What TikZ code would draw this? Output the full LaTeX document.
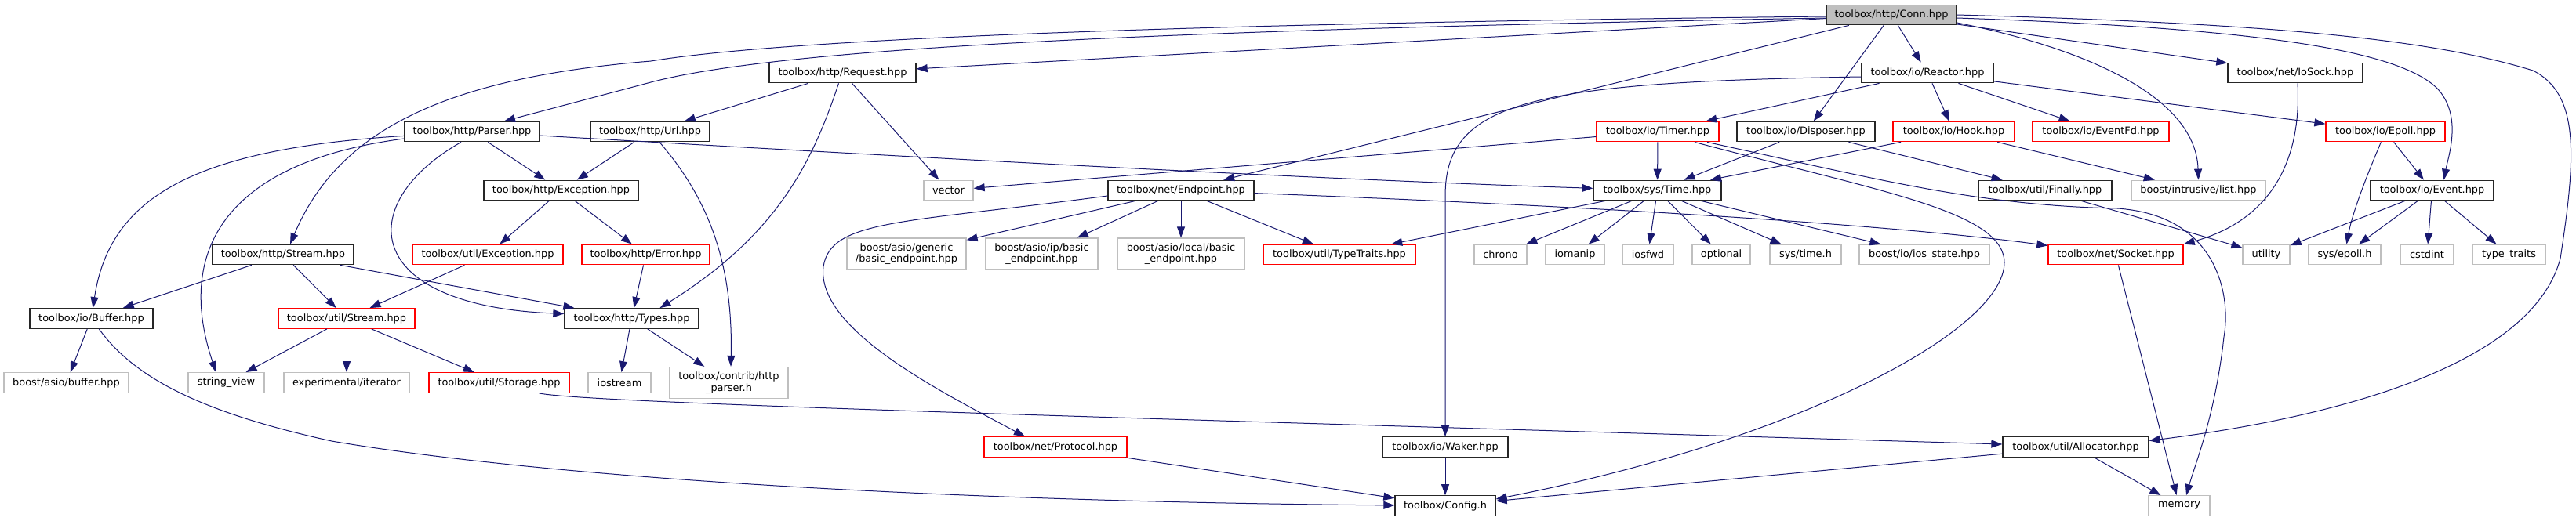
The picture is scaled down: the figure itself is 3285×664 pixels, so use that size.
\documentclass[tikz,border=0pt]{standalone}
\usepackage{fontspec}
\setmainfont{DejaVu Sans}
\usetikzlibrary{arrows.meta}
\definecolor{edgeblue}{HTML}{191970}
\definecolor{extgray}{HTML}{BFBFBF}
\definecolor{rootgray}{HTML}{BFBFBF}
\begin{document}
\begin{tikzpicture}[x=1pt,y=-1pt,
box/.style={rectangle,fill=white,line width=1.3pt,minimum height=25.5pt,inner xsep=1pt,inner ysep=1pt,font=\fontsize{12.9}{14.3}\selectfont},
file/.style={box,draw=black!85},
root/.style={box,draw=black!85,fill=rootgray},
trunc/.style={box,draw=red},
ext/.style={box,draw=extgray},
dep/.style={draw=edgeblue,line width=1pt,-{Triangle[length=14pt,width=10pt]}}]
\useasboundingbox (0,0) rectangle (3285,664);
\node[root,minimum width=166] (conn) at (2412,19) {toolbox/http/Conn.hpp};
\foreach \n/\x/\y/\w/\t in {request/1074.5/93/187/{toolbox/http/Request.hpp},
reactor/2458/93/168/{toolbox/io/Reactor.hpp},
iosock/2927/93/172/{toolbox/net/IoSock.hpp},
parser/602/168/172/{toolbox/http/Parser.hpp},
url/829/168/152/{toolbox/http/Url.hpp},
disposer/2303/168/176/{toolbox/io/Disposer.hpp},
exception/715.5/243/197/{toolbox/http/Exception.hpp},
endpoint/1506/243/186/{toolbox/net/Endpoint.hpp},
time/2113.5/243/163/{toolbox/sys/Time.hpp},
finally/2608/243/170/{toolbox/util/Finally.hpp},
event/3101.5/243/157/{toolbox/io/Event.hpp},
hstream/361/325/180/{toolbox/http/Stream.hpp},
buffer/116.5/406.5/157/{toolbox/io/Buffer.hpp},
types/805.5/406.5/171/{toolbox/http/Types.hpp},
waker/1843/570.5/160/{toolbox/io/Waker.hpp},
allocator/2647/570.5/186/{toolbox/util/Allocator.hpp},
config/1843/645.5/128/{toolbox/Config.h}}
\node[file,minimum width=\w] (\n) at (\x,\y) {\t};
\foreach \n/\x/\y/\w/\t in {timer/2114/168/156/{toolbox/io/Timer.hpp},
hook/2491.5/168/155/{toolbox/io/Hook.hpp},
eventfd/2679/168/174/{toolbox/io/EventFd.hpp},
epoll/3042/168/152/{toolbox/io/Epoll.hpp},
uexception/622/325/192/{toolbox/util/Exception.hpp},
error/823.5/325/163/{toolbox/http/Error.hpp},
typetraits/1708/325/194/{toolbox/util/TypeTraits.hpp},
socket/2698/325/172/{toolbox/net/Socket.hpp},
ustream/442/406.5/174/{toolbox/util/Stream.hpp},
storage/636.5/488.5/179/{toolbox/util/Storage.hpp},
protocol/1346/570.5/182/{toolbox/net/Protocol.hpp}}
\node[trunc,minimum width=\w] (\n) at (\x,\y) {\t};
\foreach \n/\x/\y/\w/\t in {vector/1209.5/243/63/{vector},
intrusive/2803.5/243/171/{boost/intrusive/list.hpp},
chrono/1913.5/325/67/{chrono},
iomanip/2008.5/325/75/{iomanip},
iosfwd/2101.5/325/65/{iosfwd},
optional/2195/325/74/{optional},
systime/2302.5/325/91/{sys/time.h},
iosstate/2454/325/166/{boost/io/ios\_state.hpp},
utility/2890/325/60/{utility},
sysepoll/2990/325/92/{sys/epoll.h},
cstdint/3095/325/68/{cstdint},
typetr/3199.5/325/93/{type\_traits},
asiobuf/84.5/488.5/159/{boost/asio/buffer.hpp},
strview/288.5/488.5/97/{string\_view},
expiter/442/488.5/160/{experimental/iterator},
iostream/790/488.5/80/{iostream},
memory/2779/645.5/78/{memory}}
\node[ext,minimum width=\w] (\n) at (\x,\y) {\t};
\foreach \n/\x/\y/\w/\t in {generic/1156/324/152/{boost/asio/generic\\/basic\_endpoint.hpp},
ip/1328.5/324/143/{boost/asio/ip/basic\\\_endpoint.hpp},
local/1506/324/162/{boost/asio/local/basic\\\_endpoint.hpp},
httpparser/929.5/488.5/151/{toolbox/contrib/http\\\_parser.h}}
\node[ext,align=center,minimum height=40,minimum width=\w] (\n) at (\x,\y) {\t};
\foreach \a/\b in {conn/request,conn/reactor,conn/disposer,conn/iosock,conn/endpoint,
request/url,request/vector,parser/exception,url/exception,
exception/uexception,exception/error,hstream/buffer,hstream/ustream,hstream/types,
uexception/ustream,error/types,ustream/strview,ustream/expiter,ustream/storage,
types/iostream,types/httpparser,buffer/asiobuf,
endpoint/generic,endpoint/ip,endpoint/local,endpoint/typetraits,
reactor/timer,reactor/hook,reactor/eventfd,reactor/epoll,
timer/vector,timer/time,disposer/time,disposer/finally,hook/time,hook/intrusive,
time/typetraits,time/chrono,time/iomanip,time/iosfwd,time/optional,time/systime,time/iosstate,
finally/utility,epoll/event,event/utility,event/sysepoll,event/cstdint,event/typetr,
socket/memory,allocator/memory,allocator/config,waker/config,protocol/config}
\draw[dep] (\a) -- (\b);
\draw[dep] ([yshift=-2]conn.west) .. controls (1500,30) and (1000,50) .. (830,78) .. controls (560,100) and (430,170) .. ([xshift=9]hstream.north);
\draw[dep] ([yshift=-4]conn.west) .. controls (1500,38) and (1000,60) .. (830,105) -- ([xshift=41]parser.north);
\draw[dep] ([yshift=-10]conn.east) .. controls (2650,60) and (2800,120) .. (intrusive.north);
\draw[dep] ([yshift=-4]conn.east) .. controls (2850,35) and (3060,60) .. (3110,115) .. controls (3140,150) and (3122,200) .. ([xshift=15]event.north);
\draw[dep] (conn.east) .. controls (2900,30) and (3100,50) .. (3230,90) .. controls (3290,120) and (3285,200) .. (3265,330) .. controls (3230,460) and (3000,530) .. ([yshift=8]allocator.east);
\draw[dep] ([xshift=-5]request.south) .. controls (1035,210) and (990,300) .. ([xshift=36]types.north);
\draw[dep] (parser) .. controls (1100,197) and (1650,228) .. (time);
\draw[dep] (parser) .. controls (250,190) and (140,250) .. (buffer);
\draw[dep] ([yshift=-9]parser.west) .. controls (300,205) and (220,310) .. ([xshift=-13]strview.north);
\draw[dep] ([xshift=-14]parser.south) .. controls (450,260) and (460,390) .. ([yshift=6]types.west);
\draw[dep] ([xshift=12]url.south) .. controls (900,250) and (935,330) .. ([xshift=2.5]httpparser.north);
\draw[dep] ([xshift=51]storage.south) .. controls (750,515) and (1500,535) .. ([yshift=3.5]allocator.west);
\draw[dep] (buffer) .. controls (170,480) and (250,525) .. (423,563) .. controls (700,610) and (1200,640) .. (config);
\draw[dep] ([yshift=-7]endpoint.west) .. controls (1150,285) and (1060,280) .. (1050,340) .. controls (1040,420) and (1200,500) .. ([xshift=-39]protocol.north);
\draw[dep] (endpoint) .. controls (2000,262) and (2400,285) .. (socket);
\draw[dep] ([yshift=-5]reactor.west) .. controls (1950,105) and (1843,130) .. (1843,250) -- (waker);
\draw[dep] ([xshift=3]iosock.south) .. controls (2935,200) and (2900,280) .. (socket.north east);
\draw[dep] ([xshift=63]timer.south) .. controls (2400,230) and (2520,262) .. (2700,266) .. controls (2830,275) and (2845,380) .. (2836,430) .. controls (2825,530) and (2800,590) .. ([xshift=9]memory.north);
\draw[dep] ([xshift=47]timer.south) .. controls (2400,245) and (2555,270) .. (2556,335) .. controls (2556,420) and (2300,560) .. ([yshift=8.5]config.east);
\draw[dep] (epoll) .. controls (3020,220) and (3000,270) .. (sysepoll);
\end{tikzpicture}
\end{document}
